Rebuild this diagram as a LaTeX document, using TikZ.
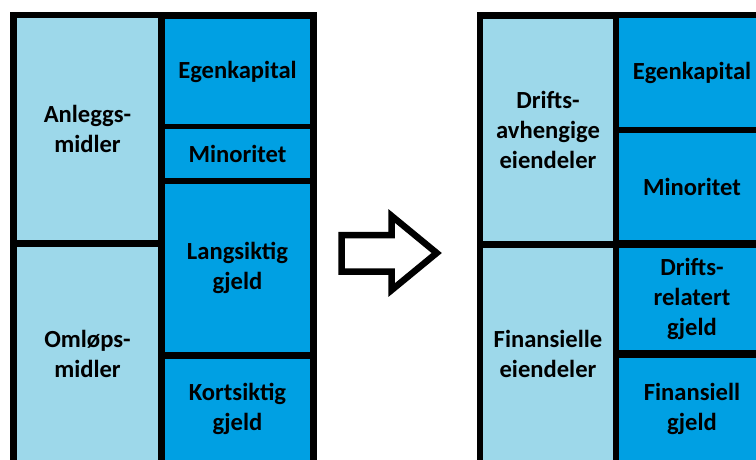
\documentclass[tikz,border=0pt]{standalone}
\usepackage{fontspec}
\setmainfont{Carlito}
\definecolor{lightcell}{RGB}{157,216,234}
\definecolor{darkcell}{RGB}{0,160,227}
\begin{document}
\begin{tikzpicture}[x=1pt,y=-1pt,
  cell/.style={draw=none, inner sep=0pt, outer sep=0pt, align=center,
    text=black, font=\fontsize{24.6}{30}\selectfont\bfseries},
  light/.style={cell, fill=lightcell},
  dark/.style={cell, fill=darkcell},
  bigarrow/.style={draw=black, line width=6.5pt, fill=white, line join=miter}]
\useasboundingbox (0,0) rectangle (756,459);
\clip (0,0) rectangle (756,459);
\fill[white] (0,0) rectangle (756,459);
% left panel
\fill[black] (10,12) rectangle (317,470);
\node[light, minimum width=141pt, minimum height=222pt] (LA) at (87.5,129) {Anleggs-\\midler};
\node[light, minimum width=141pt, minimum height=213pt] (LO) at (87.5,353.5) {Omløps-\\midler};
\node[dark, minimum width=145pt, minimum height=105pt] (LE) at (237.5,71.5) {Egenkapital};
\node[dark, minimum width=145pt, minimum height=49pt] (LM) at (237.5,153.5) {Minoritet};
\node[dark, minimum width=145pt, minimum height=168pt] (LL) at (237.5,268) {Langsiktig\\gjeld};
\node[dark, minimum width=145pt, minimum height=101pt] (LK) at (237.5,409) {Kortsiktig\\gjeld};
% arrow
\draw[bigarrow] (341.5,235) -- (391.7,235) -- (391.7,216) -- (436.7,253)
  -- (391.7,290) -- (391.7,271.5) -- (341.5,271.5) -- cycle;
% right panel
\fill[black] (477,12) rectangle (780,470);
\node[light, minimum width=130pt, minimum height=222pt] (RD) at (548,130) {Drifts-\\avhengige\\eiendeler};
\node[light, minimum width=130pt, minimum height=213pt] (RF) at (548,354) {Finansielle\\eiendeler};
\node[dark, minimum width=146pt, minimum height=109pt] (RE) at (692,72.5) {Egenkapital};
\node[dark, minimum width=146pt, minimum height=107pt] (RM) at (692,186.5) {Minoritet};
\node[dark, minimum width=146pt, minimum height=102pt] (RR) at (692,299) {Drifts-\\relatert\\gjeld};
\node[dark, minimum width=146pt, minimum height=103pt] (RG) at (692,409) {Finansiell\\gjeld};
\end{tikzpicture}
\end{document}
